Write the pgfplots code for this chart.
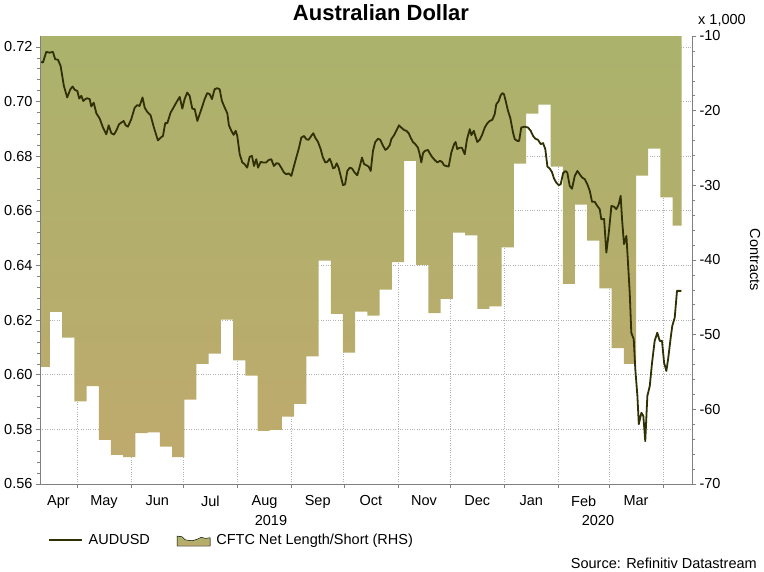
\documentclass[border=0pt]{standalone}
\usepackage{pgfplots}
\pgfplotsset{compat=1.18}
\usepackage{fontspec}
\setmainfont{Liberation Sans}
\definecolor{audline}{RGB}{48,48,5}
\definecolor{areatop}{RGB}{170,178,108}
\definecolor{areabot}{RGB}{190,170,108}
\definecolor{axgray}{RGB}{128,128,128}
\newcommand{\fs}{\fontsize{14.5}{17}\selectfont}
\begin{document}
\begin{tikzpicture}
\path[use as bounding box] (0pt,0pt) rectangle (764pt,571pt);
\pgfplotsset{
  base/.style={scale only axis, width=652pt, height=448pt, at={(40pt,87pt)},
    anchor=south west, xmin=8.8, xmax=382.6, clip=false},
}
% grid only
\begin{axis}[base, ymin=0.56, ymax=0.724,
  xtick={30,61,91,122,153,183,214,244,275,306,335,366},
  ytick={0.58,0.60,0.62,0.64,0.66,0.68,0.70,0.72},
  xticklabels={}, yticklabels={},
  axis line style={draw=none}, major tick style={draw=none},
  xmajorgrids, ymajorgrids,
  grid style={gray!60, dotted, line width=0.8pt}]
\end{axis}
% right axis with area
\begin{axis}[base, ymin=-70, ymax=-10,
  axis y line*=right, axis x line=none,
  ytick={-70,-60,-50,-40,-30,-20,-10},
  yticklabels={-70,-60,-50,-40,-30,-20,-10},
  minor y tick num=4,
  tick align=outside, major tick length=4pt, minor tick length=2.5pt,
  tick style={axgray, line width=0.6pt}, axis line style={axgray, line width=0.7pt, -},
  ticklabel style={font=\fs, text=black}]
\addplot[const plot, draw=none, top color=areatop, bottom color=areabot] coordinates {
(8.8,-10) (8.8,-54.3) (14.5,-46.96) (21.5,-50.4) (28.5,-58.95) (35.5,-56.9)
(42.5,-64.1) (49.5,-66.1) (56.5,-66.4) (63.5,-63.2) (70.5,-63.1) (77.5,-65.0)
(84.5,-66.4) (91.5,-58.7) (98.5,-53.9) (105.5,-52.55) (112.5,-48.0) (119.5,-53.45)
(126.5,-55.5) (133.5,-62.9) (140.5,-62.75) (147.5,-60.96) (154.5,-59.26) (161.5,-52.9)
(168.5,-40.07) (175.5,-47.2) (182.5,-52.4) (189.5,-46.9) (196.5,-47.45) (203.5,-43.96)
(210.5,-40.3) (217.5,-26.74) (224.5,-40.65) (231.5,-47.1) (238.5,-45.2) (245.5,-36.35)
(252.5,-36.7) (259.5,-46.55) (266.5,-46.2) (273.5,-38.3) (280.5,-27.1) (287.5,-20.4)
(294.5,-19.2) (301.5,-27.5) (308.5,-43.2) (315.5,-32.6) (322.5,-37.4) (329.5,-43.8)
(336.5,-51.8) (343.5,-53.9) (350.5,-28.7) (357.5,-25.1) (364.5,-31.6) (371.5,-35.4)
(376.7,-35.4) (376.7,-10)
};
\end{axis}
% left axis with line
\begin{axis}[base, ymin=0.56, ymax=0.724,
  axis x line*=bottom, axis y line*=left,
  ytick={0.56,0.58,0.60,0.62,0.64,0.66,0.68,0.70,0.72},
  yticklabels={0.56,0.58,0.60,0.62,0.64,0.66,0.68,0.70,0.72},
  minor y tick num=4,
  xtick={30,61,91,122,153,183,214,244,275,306,335,366},
  xticklabels={},
  extra x ticks={19.4,45.5,76,106.5,137.5,168,198.5,229,259.5,290.5,320.5,350.5},
  extra x tick labels={Apr,May,Jun,Jul,Aug,Sep,Oct,Nov,Dec,Jan,Feb,Mar},
  extra x tick style={major tick length=0pt, tick label style={yshift=-8pt}},
  tick align=outside, major tick length=4pt, minor tick length=2.5pt,
  tick style={axgray, line width=0.6pt}, axis line style={axgray, line width=0.7pt, -},
  ticklabel style={font=\fs, text=black},
  legend columns=2,
  legend style={at={(0.0118,-0.1257)}, anchor=west, draw=none, fill=none,
    inner xsep=0pt, inner ysep=0pt, font=\fs,
    /tikz/every odd column/.append style={column sep=4pt},
    /tikz/every even column/.append style={column sep=25pt}},
  legend cell align=left]
\addplot[audline, line width=1.8pt, line join=round,
  legend image code/.code={\draw[audline, line width=1.8pt] (0pt,0pt) -- (33pt,0pt);}] coordinates {
(9.5,0.7145) (10.5,0.7143) (12.4,0.7182) (14.3,0.7179) (16.2,0.7182) (17.5,0.7155)
(19.1,0.7153) (20.6,0.7131) (22.5,0.7057) (24.4,0.7015) (26.2,0.7045) (27.5,0.7055)
(28.7,0.7043) (30.2,0.7039) (31.3,0.7011) (32.5,0.7021) (33.6,0.7002) (34.8,0.7009)
(35.9,0.7012) (37.3,0.7009) (38.2,0.6982) (39.6,0.6996) (41.1,0.6957) (43.0,0.6938)
(44.9,0.6905) (46.8,0.6880) (48.2,0.6913) (49.7,0.6884) (51.2,0.6879) (52.5,0.6893)
(54.1,0.6917) (55.4,0.6923) (56.8,0.6929) (57.9,0.6913) (59.2,0.6908) (61.1,0.6935)
(63.1,0.6978) (64.6,0.6987) (65.9,0.6984) (67.6,0.7015) (68.8,0.6978) (70.3,0.6962)
(72.2,0.6950) (74.1,0.6905) (76.4,0.6858) (78.0,0.6868) (79.3,0.6874) (80.6,0.6921)
(81.8,0.6921) (83.7,0.6960) (85.0,0.6974) (86.9,0.6996) (88.9,0.7017) (90.4,0.6974)
(91.7,0.7009) (93.2,0.7033) (94.6,0.7021) (96.1,0.6974) (97.5,0.6972) (99.0,0.6929)
(101.3,0.6972) (103.2,0.7009) (104.7,0.7031) (106.1,0.7027) (107.4,0.7009) (108.9,0.7045)
(110.4,0.7049) (111.8,0.7045) (113.1,0.7002) (114.7,0.6978) (116.2,0.6957) (117.1,0.6913)
(118.5,0.6893) (119.8,0.6878) (121.0,0.6893) (121.9,0.6874) (123.3,0.6807) (124.8,0.6777)
(126.1,0.6771) (127.6,0.6758) (129.0,0.6798) (130.3,0.6801) (131.5,0.6764) (132.8,0.6789)
(133.8,0.6758) (135.3,0.6779) (136.8,0.6777) (138.5,0.6777) (139.9,0.6786) (141.4,0.6789)
(142.9,0.6764) (144.3,0.6774) (145.6,0.6773) (147.1,0.6758) (148.7,0.6740) (150.0,0.6734)
(151.4,0.6737) (152.9,0.6728) (154.4,0.6764) (156.0,0.6801) (157.3,0.6831) (158.6,0.6868)
(160.2,0.6874) (161.5,0.6862) (162.8,0.6860) (164.3,0.6874) (165.5,0.6884) (166.6,0.6868)
(168.2,0.6852) (169.7,0.6826) (171.0,0.6795) (172.4,0.6777) (173.5,0.6779) (174.9,0.6791)
(175.8,0.6777) (176.8,0.6756) (177.8,0.6758) (178.9,0.6774) (180.0,0.6758) (181.2,0.6728)
(182.5,0.6694) (183.7,0.6697) (185.0,0.6746) (186.4,0.6758) (187.7,0.6755) (189.2,0.6740)
(190.7,0.6730) (192.1,0.6762) (193.4,0.6795) (194.6,0.6771) (195.9,0.6767) (197.2,0.6762)
(198.4,0.6746) (199.7,0.6819) (201.0,0.6852) (202.6,0.6864) (203.9,0.6860) (205.3,0.6840)
(206.8,0.6823) (207.9,0.6828) (209.3,0.6840) (210.2,0.6862) (211.8,0.6877) (213.1,0.6893)
(214.6,0.6913) (215.9,0.6905) (217.5,0.6896) (218.8,0.6893) (220.2,0.6884) (221.3,0.6868)
(222.6,0.6852) (224.0,0.6844) (225.5,0.6831) (226.5,0.6807) (227.4,0.6777) (228.4,0.6811)
(229.4,0.6819) (231.2,0.6823) (232.2,0.6811) (233.5,0.6798) (235.1,0.6786) (236.6,0.6777)
(238.1,0.6783) (239.3,0.6779) (240.4,0.6767) (241.7,0.6764) (243.1,0.6762) (244.6,0.6813)
(246.2,0.6844) (247.1,0.6852) (248.0,0.6826) (249.4,0.6831) (250.7,0.6831) (252.3,0.6807)
(253.6,0.6862) (255.2,0.6899) (256.1,0.6877) (257.5,0.6893) (258.4,0.6874) (259.5,0.6852)
(260.9,0.6860) (262.2,0.6877) (263.8,0.6905) (265.3,0.6921) (266.6,0.6929) (268.1,0.6933)
(269.5,0.6954) (270.4,0.6990) (271.8,0.7002) (272.9,0.7023) (273.9,0.7031) (274.8,0.7027)
(275.8,0.7002) (277.1,0.6966) (278.4,0.6941) (280.0,0.6886) (281.0,0.6862) (282.5,0.6856)
(283.5,0.6856) (284.7,0.6905) (286.7,0.6908) (288.6,0.6905) (290.1,0.6893) (291.5,0.6874)
(292.8,0.6864) (294.3,0.6860) (295.9,0.6844) (297.2,0.6848) (298.5,0.6826) (299.7,0.6762)
(301.0,0.6755) (302.3,0.6742) (303.5,0.6718) (304.8,0.6703) (306.2,0.6694) (307.3,0.6697)
(308.7,0.6738) (310.0,0.6746) (311.1,0.6740) (312.5,0.6691) (313.8,0.6681) (315.4,0.6728)
(316.9,0.6746) (318.2,0.6734) (319.6,0.6722) (321.1,0.6716) (322.6,0.6697) (324.0,0.6673)
(325.3,0.6633) (326.8,0.6633) (328.3,0.6618) (329.7,0.6606) (330.6,0.6569) (332.2,0.6570)
(333.5,0.6447) (334.9,0.6520) (336.4,0.6618) (337.9,0.6615) (339.2,0.6606) (340.6,0.6624)
(341.7,0.6655) (342.5,0.6569) (343.6,0.6478) (345.0,0.6508) (345.9,0.6410) (346.9,0.6300)
(347.8,0.6154) (349.2,0.6130) (350.1,0.6020) (351.3,0.5922) (352.1,0.5819) (353.6,0.5861)
(354.7,0.5849) (355.8,0.5757) (357.0,0.5922) (358.4,0.5959) (359.7,0.6044) (361.2,0.6124)
(362.7,0.6154) (364.1,0.6124) (365.4,0.6124) (366.6,0.6044) (367.9,0.6014) (368.9,0.6057)
(370.4,0.6136) (371.3,0.6179) (372.7,0.6209) (374.0,0.6307) (376.5,0.6307)
};
\addlegendentry{AUDUSD}
\addlegendimage{legend image code/.code={\fill[top color=areatop, bottom color=areabot]
  (0pt,-5.7pt) -- (0pt,4.3pt) -- (5pt,3.5pt) -- (8pt,0.5pt) -- (15pt,-0.5pt) -- (20pt,1pt)
  -- (24pt,3pt) -- (28pt,2pt) -- (33pt,2.5pt) -- (33pt,-5.7pt) -- cycle;}}
\addlegendentry{CFTC Net Length/Short (RHS)}
\end{axis}
\node[font=\fontsize{22}{26}\selectfont\bfseries] at (381pt,558pt) {Australian Dollar};
\node[font=\fs] at (271pt,50pt) {2019};
\node[font=\fs] at (598pt,50pt) {2020};
\node[font=\fs, rotate=-90] at (755pt,311pt) {Contracts};
\node[font=\fs, anchor=west, inner sep=0pt] at (698pt,551pt) {x 1,000};
\node[font=\fs, anchor=east, inner sep=0pt] at (757pt,8pt) {Source: Refinitiv Datastream};
\end{tikzpicture}
\end{document}
